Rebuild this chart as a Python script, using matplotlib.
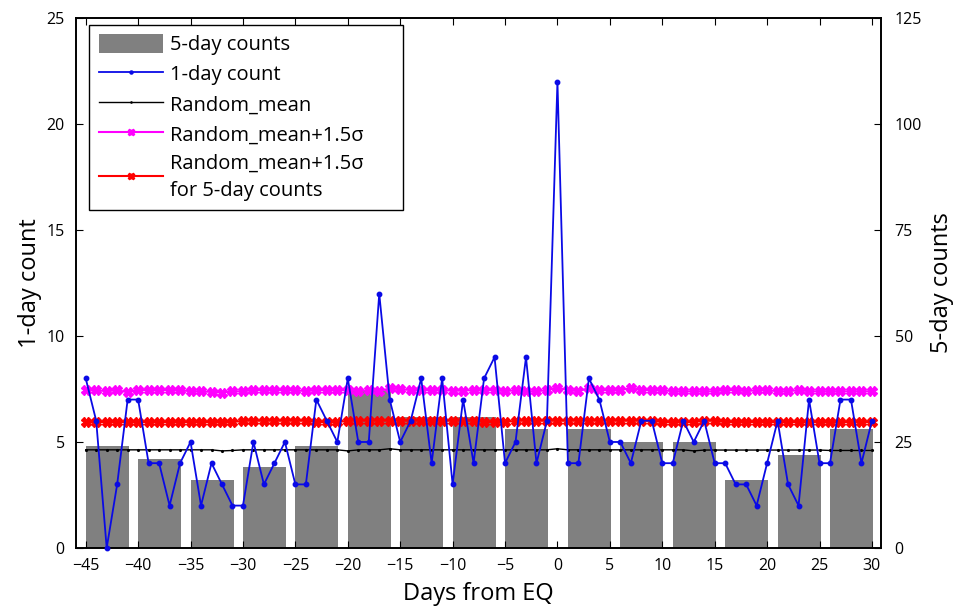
import numpy as np
import matplotlib.pyplot as plt

plt.rcParams['font.family'] = ['Open Sans', 'DejaVu Sans']

# data
days = np.arange(-45, 31)

one_day = [8, 6, 0, 3, 7, 7, 4, 4, 2, 4,
           5, 2, 4, 3, 2, 2, 5, 3, 4, 5,
           3, 3, 7, 6, 5, 8, 5, 5, 12, 7,
           5, 6, 8, 4, 8, 3, 7, 4, 8, 9,
           4, 5, 9, 4, 6, 22, 4, 4, 8, 7,
           5, 5, 4, 6, 6, 4, 4, 6, 5, 6,
           4, 4, 3, 3, 2, 4, 6, 3, 2, 7,
           4, 4, 7, 7, 4, 6]

rand_mean = [4.63, 4.63, 4.63, 4.63, 4.63, 4.63, 4.63, 4.63, 4.63, 4.63,
             4.63, 4.63, 4.63, 4.58, 4.60, 4.63, 4.63, 4.63, 4.63, 4.63,
             4.63, 4.63, 4.63, 4.63, 4.63, 4.58, 4.63, 4.63, 4.63, 4.68,
             4.63, 4.63, 4.63, 4.63, 4.63, 4.63, 4.63, 4.63, 4.63, 4.63,
             4.63, 4.63, 4.63, 4.63, 4.63, 4.68, 4.63, 4.63, 4.63, 4.63,
             4.63, 4.63, 4.63, 4.63, 4.63, 4.63, 4.63, 4.63, 4.58, 4.62,
             4.62, 4.62, 4.62, 4.62, 4.62, 4.62, 4.62, 4.62, 4.62, 4.62,
             4.62, 4.60, 4.60, 4.60, 4.60, 4.60]

rand_sig = [7.45, 7.45, 7.39, 7.45, 7.34, 7.45, 7.45, 7.45, 7.45, 7.45,
            7.39, 7.39, 7.36, 7.33, 7.39, 7.39, 7.45, 7.45, 7.45, 7.45,
            7.45, 7.39, 7.45, 7.45, 7.45, 7.45, 7.39, 7.45, 7.39, 7.53,
            7.49, 7.45, 7.45, 7.45, 7.45, 7.42, 7.42, 7.45, 7.45, 7.45,
            7.39, 7.45, 7.39, 7.39, 7.45, 7.55, 7.45, 7.39, 7.55, 7.45,
            7.45, 7.45, 7.53, 7.45, 7.45, 7.45, 7.39, 7.39, 7.39, 7.39,
            7.39, 7.45, 7.45, 7.39, 7.45, 7.45, 7.39, 7.39, 7.45, 7.39,
            7.39, 7.39, 7.39, 7.39, 7.39, 7.39]

rand_sig5 = [5.94, 5.94, 5.94, 5.94, 5.94, 5.94, 5.94, 5.94, 5.94, 5.94,
             5.94, 5.94, 5.94, 5.94, 5.94, 6.00, 6.00, 6.00, 6.00, 6.00,
             6.00, 6.00, 5.94, 5.94, 5.94, 6.00, 6.00, 6.00, 6.00, 6.00,
             6.00, 6.00, 6.00, 6.00, 6.00, 6.00, 6.00, 6.00, 5.94, 5.94,
             5.94, 6.00, 6.00, 6.00, 6.00, 6.00, 6.00, 6.00, 6.00, 6.00,
             6.00, 6.00, 6.00, 6.00, 6.00, 5.94, 5.94, 5.94, 5.94, 6.00,
             6.00, 5.94, 5.94, 5.94, 5.94, 5.94, 5.94, 5.94, 5.94, 5.94,
             5.94, 5.94, 5.94, 5.94, 5.94, 5.94]

bar_start = [-45, -40, -35, -30, -25, -20, -15, -10, -5, 1, 6, 11, 16, 21, 26]
five_day = [24, 21, 16, 19, 24, 37, 31, 31, 28, 28, 25, 25, 16, 22, 28]

# figure
fig = plt.figure(figsize=(9.59, 6.12), dpi=100)
ax = fig.add_axes([0.079, 0.1046, 0.8395, 0.866])
ax2 = ax.twinx()
ax.set_zorder(ax2.get_zorder() + 1)
ax.patch.set_visible(False)

bars = ax2.bar(bar_start, five_day, width=4.1, align='edge', color='#808080',
               label='5-day counts')

l1, = ax.plot(days, one_day, color='#0a0ae6', lw=1.3, marker='o', ms=3.2,
              label='1-day count', clip_on=False, zorder=5)
l2, = ax.plot(days, rand_mean, color='black', lw=1.0, marker='.', ms=2.5,
              label='Random_mean', zorder=4)
l3, = ax.plot(days, rand_sig, color='#ff00ff', lw=1.5, marker='X', ms=6.5,
              label='Random_mean+1.5σ', zorder=4)
l4, = ax.plot(days, rand_sig5, color='#ff0000', lw=1.5, marker='X', ms=6.5,
              label='Random_mean+1.5σ\nfor 5-day counts', zorder=4)

ax.set_xlim(-45.95, 30.85)
ax.set_ylim(0, 25)
ax2.set_ylim(0, 125)
ax.set_xticks(np.arange(-45, 31, 5))
ax.set_yticks(np.arange(0, 26, 5))
ax2.set_yticks(np.arange(0, 126, 25))

ax.tick_params(direction='in', top=True, length=5, labelsize=11.5, pad=7)
ax.tick_params(axis='y', pad=8)
ax2.tick_params(direction='in', length=5, labelsize=11.5, pad=10)
for a in (ax, ax2):
    for s in a.spines.values():
        s.set_linewidth(1.2)

ax.set_xlabel('Days from EQ', fontsize=17, labelpad=6)
ax.set_ylabel('1-day count', fontsize=17, labelpad=3)
ax2.set_ylabel('5-day counts', fontsize=17, labelpad=6)

# legend box stretched to the width seen in the original
leg = ax.legend(handles=[bars, l1, l2, l3, l4], loc='upper left',
                bbox_to_anchor=(0.017, 0.987, 0.39, 0.0), mode='expand',
                borderaxespad=0, numpoints=1, markerscale=0.7,
                fontsize=14.5, frameon=True, fancybox=False, framealpha=1,
                edgecolor='black', handlelength=3.2, handleheight=1.1,
                handletextpad=0.35, labelspacing=0.42, borderpad=0.45)
leg.get_frame().set_linewidth(1.0)
leg.get_texts()[-1].set_linespacing(1.45)

fig.savefig('out.png', dpi=100)
